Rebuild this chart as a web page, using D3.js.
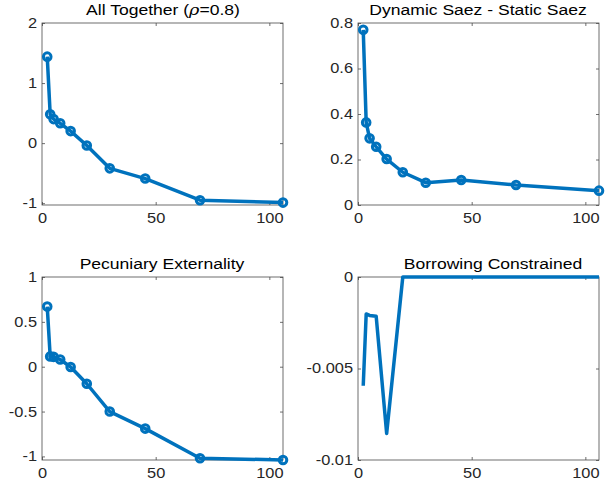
<!DOCTYPE html>
<html>
<head>
<meta charset="utf-8">
<script src="https://d3js.org/d3.v7.min.js"></script>
<style>
  body { margin: 0; background: #fff; }
  svg { display: block; font-family: "Liberation Sans", Arial, sans-serif; }
  .tick text { fill: #262626; font-size: 14px; }
  .ttl { fill: #000; font-size: 15px; }
</style>
</head>
<body>
<div id="chart"></div>
<script>
// x values shared by all four panels
const xVals = [2.3, 3.6, 5.1, 8.0, 12.6, 19.7, 29.8, 45.4, 69.5, 106];

// series
const allTogether = [1.44, 0.48, 0.40, 0.33, 0.20, -0.04, -0.42, -0.59, -0.95, -0.99];
const dynSaez     = [0.77, 0.363, 0.293, 0.256, 0.202, 0.144, 0.098, 0.11, 0.088, 0.063];
const pecuniary   = [0.67, 0.115, 0.11, 0.08, -0.003, -0.19, -0.50, -0.69, -1.02, -1.04];
const borrowing   = [-0.00594, -0.00202, -0.0021, -0.00215, -0.00855, 0, 0, 0, 0, 0];

// tick labels
const xTicks = [0, 50, 100];
const yTicksTL = [-1, 0, 1, 2];
const yTicksTR = [0, 0.2, 0.4, 0.6, 0.8];
const yTicksBL = [-1, -0.5, 0, 0.5, 1];
const yTicksBR = [-0.01, -0.005, 0];

const width = 608, height = 489;
const blue = "#0072BD";
const wide = 1.17;   // the reference text renders wider than Liberation Sans

const svg = d3.select("#chart").append("svg")
    .attr("width", width)
    .attr("height", height);

// stretch text horizontally around its own anchor
function stretch(sel) {
  sel.each(function() {
    const t = d3.select(this);
    const x = +t.attr("x") || 0, y = +t.attr("y") || 0;
    t.attr("x", 0).attr("y", 0)
      .attr("transform", `translate(${x},${y}) scale(${wide},1)`);
  });
}

// one entry per subplot
const panels = [
  { title: "All Together", rho: true, box: [42, 283, 23, 205], y: allTogether, yDom: [-1.03, 2], yTicks: yTicksTL, markers: true, tx: 163 },
  { title: "Dynamic Saez - Static Saez", box: [358, 599, 23, 205], y: dynSaez, yDom: [0, 0.8], yTicks: yTicksTR, markers: true, tx: 478 },
  { title: "Pecuniary Externality", box: [42, 283, 277, 460], y: pecuniary, yDom: [-1.04, 1], yTicks: yTicksBL, markers: true, tx: 162 },
  { title: "Borrowing Constrained", box: [358, 599, 277, 460], y: borrowing, yDom: [-0.01, 0], yTicks: yTicksBR, markers: false, tx: 493 }
];

panels.forEach(p => {
  const [x0, x1, y0, y1] = p.box;
  const x = d3.scaleLinear().domain([0, 106]).range([x0, x1]);
  const y = d3.scaleLinear().domain(p.yDom).range([y1, y0]);
  const g = svg.append("g");

  // box
  g.append("rect")
    .attr("x", x0).attr("y", y0)
    .attr("width", x1 - x0).attr("height", y1 - y0)
    .attr("fill", "none").attr("stroke", "#4a4a4a").attr("stroke-width", 0.8);

  // axes with inward ticks
  g.append("g").attr("transform", `translate(0,${y1})`)
    .call(d3.axisBottom(x).tickValues(xTicks).tickSize(-3).tickPadding(8).tickFormat(d => String(d)))
    .call(a => a.select(".domain").remove());
  g.append("g").attr("transform", `translate(0,${y0})`)
    .call(d3.axisTop(x).tickValues(xTicks).tickSize(-3).tickFormat(""))
    .call(a => a.select(".domain").remove());
  g.append("g").attr("transform", `translate(${x0},0)`)
    .call(d3.axisLeft(y).tickValues(p.yTicks).tickSize(-3).tickPadding(5).tickFormat(d => String(d)))
    .call(a => a.select(".domain").remove());
  g.append("g").attr("transform", `translate(${x1},0)`)
    .call(d3.axisRight(y).tickValues(p.yTicks).tickSize(-3).tickFormat(""))
    .call(a => a.select(".domain").remove());
  g.selectAll(".tick line").attr("stroke", "#4a4a4a").attr("stroke-width", 0.8);
  g.selectAll(".tick text").attr("font-family", null).attr("font-size", null).call(stretch);

  // series
  const pts = xVals.map((v, i) => [v, p.y[i]]);
  g.append("path")
    .datum(pts)
    .attr("fill", "none")
    .attr("stroke", blue)
    .attr("stroke-width", 3.5)
    .attr("stroke-linejoin", "round")
    .attr("d", d3.line().x(d => x(d[0])).y(d => y(d[1])));

  if (p.markers) {
    g.selectAll("circle.m").data(pts).enter().append("circle")
      .attr("class", "m")
      .attr("cx", d => x(d[0])).attr("cy", d => y(d[1]))
      .attr("r", 3.8)
      .attr("fill", "none")
      .attr("stroke", blue)
      .attr("stroke-width", 3);
  }

  // title
  const t = svg.append("text").attr("class", "ttl")
    .attr("x", p.tx).attr("y", y0 - 8)
    .attr("text-anchor", "middle");
  if (p.rho) {
    t.append("tspan").text("All Together (");
    t.append("tspan").attr("font-style", "italic").attr("font-family", "'DejaVu Serif', serif").text("\u03C1");
    t.append("tspan").text("=0.8)");
  } else {
    t.text(p.title);
  }
  t.call(stretch);
});
</script>
</body>
</html>
